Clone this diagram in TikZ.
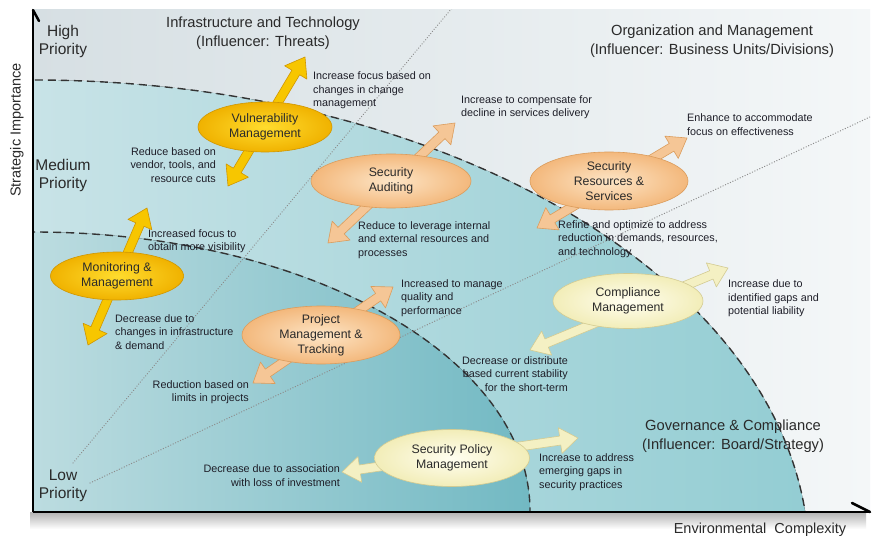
\documentclass[tikz,border=0pt]{standalone}
\usepackage{fontspec}
\setmainfont{Liberation Sans}
\usetikzlibrary{calc,shapes.geometric}

% band colours
\definecolor{panelL}{HTML}{D6DFE3}
\definecolor{panelR}{HTML}{F4F7F8}
\definecolor{midL}{HTML}{C8E3E7}
\definecolor{midR}{HTML}{93CDD3}
\definecolor{inL}{HTML}{BCDCE0}
\definecolor{inR}{HTML}{72B9C3}
% ellipse and arrow colours
\definecolor{goldIn}{HTML}{FFDC2E}
\definecolor{goldOut}{HTML}{F0B200}
\definecolor{goldEdge}{HTML}{D09600}
\definecolor{goldFill}{HTML}{F7C600}
\definecolor{peachIn}{HTML}{FDE5C6}
\definecolor{peachOut}{HTML}{F3B87C}
\definecolor{peachEdge}{HTML}{DB9C5C}
\definecolor{creamIn}{HTML}{FFFEF0}
\definecolor{creamOut}{HTML}{F2EDB8}
\definecolor{creamEdge}{HTML}{D3CB92}
\definecolor{ink}{HTML}{1E1E28}
\definecolor{titleink}{HTML}{2A2A2A}

% double-headed block arrow between two named points
\newcommand\dblarrow[3]{%
  \coordinate (qa) at ($(#2)!18pt!(#3)$);
  \coordinate (qb) at ($(#3)!18pt!(#2)$);
  \filldraw[#1] (#2) -- ($(qa)!13pt!90:(#3)$) -- ($(qa)!4.5pt!90:(#3)$)
    -- ($(qb)!4.5pt!-90:(#2)$) -- ($(qb)!13pt!-90:(#2)$) -- (#3)
    -- ($(qb)!13pt!90:(#2)$) -- ($(qb)!4.5pt!90:(#2)$)
    -- ($(qa)!4.5pt!-90:(#3)$) -- ($(qa)!13pt!-90:(#3)$) -- cycle;}

\tikzset{
  pill/.style={ellipse, inner sep=0pt, line width=0.6pt},
  goldpill/.style={pill, inner color=goldIn, outer color=goldOut, draw=goldEdge},
  peachpill/.style={pill, inner color=peachIn, outer color=peachOut, draw=peachEdge},
  creampill/.style={pill, inner color=creamIn, outer color=creamOut, draw=creamEdge},
  pilltext/.style={align=center, text=titleink, font=\fontsize{12.3}{15}\selectfont},
  goldarrow/.style={fill=goldFill, draw=goldEdge, line width=0.6pt, line join=round},
  peacharrow/.style={fill=peachOut!80!white, draw=peachEdge, line width=0.6pt, line join=round},
  creamarrow/.style={fill=creamOut!85!white, draw=creamEdge, line width=0.6pt, line join=round},
  note/.style={text=ink, inner sep=0pt, font=\fontsize{10.8}{13.3}\selectfont},
  noteL/.style={note, anchor=west, align=left},
  noteR/.style={note, anchor=east, align=right},
  regiontitle/.style={text=titleink, align=center, inner sep=0pt, font=\fontsize{14.7}{18.5}\selectfont},
  prio/.style={text=titleink, align=center, inner sep=0pt, font=\fontsize{15.5}{18}\selectfont},
  axislabel/.style={text=titleink, inner sep=0pt, font=\fontsize{14.5}{17}\selectfont},
  boundary/.style={draw=black!80, line width=1.4pt, dash pattern=on 8pt off 5pt},
  sector/.style={draw=black!45, line width=1.3pt, dash pattern=on 0.1pt off 2.6pt, line cap=round},
  axisline/.style={line width=2.5pt, black},
}

\begin{document}
\begin{tikzpicture}[x=1pt, y=-1pt]
\useasboundingbox (0,0) rectangle (872,537);
\fill[white] (0,0) rectangle (872,537);

% soft shadow under the chart
\fill[top color=black!30, bottom color=white] (30,512) rectangle (866,529);

% chart panel with the two priority bands
\begin{scope}
  \clip (33,10) rectangle (870,511);
  \fill[left color=panelL, right color=panelR] (33,10) rectangle (870,511);
  \begin{scope}
    \clip (33,560) ellipse [x radius=776, y radius=480];
    \fill[left color=midL, right color=midR] (33,10) rectangle (809,511);
  \end{scope}
  \begin{scope}
    \clip (33,511) ellipse [x radius=497, y radius=279];
    \fill[left color=inL, right color=inR] (33,232) rectangle (530,511);
  \end{scope}
  \draw[boundary] (33,560) ellipse [x radius=776, y radius=480];
  \draw[boundary] (33,511) ellipse [x radius=497, y radius=279];
  % sector dividers
  \coordinate (s1a) at (73,463);
  \coordinate (s1b) at (452,8);
  \coordinate (s2a) at (90,483);
  \coordinate (s2b) at (872,116);
  \draw[sector] (s1a) -- (s1b);
  \draw[sector] (s2a) -- (s2b);
\end{scope}

% axes
\coordinate (origin) at (33,512);
\coordinate (ytip) at (33,10);
\coordinate (xtip) at (870,512);
\coordinate (ybarb) at (39,21);
\coordinate (xbarb) at (852,503);
\draw[axisline] (origin) -- (ytip);
\draw[axisline] (origin) -- (xtip);
\draw[axisline, line cap=round] (ytip) -- (ybarb);
\draw[axisline, line cap=round] (xtip) -- (xbarb);

\node[axislabel, rotate=90] (ylab) at (17,130) {Strategic Importance};
\node[axislabel] (xlab) at (760,530) {Environmental\ \ Complexity};

% priority levels
\node[prio] (hp) at (63,41) {High\\Priority};
\node[prio] (mp) at (63,175) {Medium\\Priority};
\node[prio] (lp) at (63,486) {Low\\Priority};

% region titles
\node[regiontitle] (t1) at (263,33) {Infrastructure and Technology\\(Influencer: Threats)};
\node[regiontitle] (t2) at (712,41) {Organization and Management\\(Influencer: Business Units/Divisions)};
\node[regiontitle] (t3) at (733,436) {Governance \& Compliance\\(Influencer: Board/Strategy)};

% arrow end points
\coordinate (vm-a) at (305,57);   \coordinate (vm-b) at (228,186);
\coordinate (sa-a) at (455,123);  \coordinate (sa-b) at (328,243);
\coordinate (sr-a) at (687,138);  \coordinate (sr-b) at (537,228);
\coordinate (mm-a) at (147,208);  \coordinate (mm-b) at (88,345);
\coordinate (pm-a) at (393,287);  \coordinate (pm-b) at (253,383);
\coordinate (cm-a) at (728,268);  \coordinate (cm-b) at (530,350);
\coordinate (sp-a) at (578,438);  \coordinate (sp-b) at (342,472);

\dblarrow{goldarrow}{vm-a}{vm-b}
\dblarrow{peacharrow}{sa-a}{sa-b}
\dblarrow{peacharrow}{sr-a}{sr-b}
\dblarrow{goldarrow}{mm-a}{mm-b}
\dblarrow{peacharrow}{pm-a}{pm-b}
\dblarrow{creamarrow}{cm-a}{cm-b}
\dblarrow{creamarrow}{sp-a}{sp-b}

% practice areas
\node[goldpill, minimum width=134pt, minimum height=50pt,
  label={[pilltext]center:Vulnerability\\Management}] (vm) at (265,127) {};
\node[peachpill, minimum width=160pt, minimum height=54pt,
  label={[pilltext]center:Security\\Auditing}] (sa) at (391,181) {};
\node[peachpill, minimum width=158pt, minimum height=58pt,
  label={[pilltext]center:Security\\Resources \&\\Services}] (sr) at (609,181) {};
\node[goldpill, minimum width=133pt, minimum height=48pt,
  label={[pilltext]center:Monitoring \&\\Management}] (mm) at (117,276) {};
\node[peachpill, minimum width=158pt, minimum height=58pt,
  label={[pilltext]center:Project\\Management \&\\Tracking}] (pm) at (321,335) {};
\node[creampill, minimum width=150pt, minimum height=55pt,
  label={[pilltext]center:Compliance\\Management}] (cm) at (628,301) {};
\node[creampill, minimum width=155pt, minimum height=57pt,
  label={[pilltext]center:Security Policy\\Management}] (sp) at (452,458) {};

% notes on each direction of change
\node[noteL] (n1) at (313,90.5) {Increase focus based on\\changes in change\\management};
\node[noteR] (n2) at (216,165) {Reduce based on\\vendor, tools, and\\resource cuts};
\node[noteL] (n3) at (461,107) {Increase to compensate for\\decline in services delivery};
\node[noteL] (n4) at (687,124.5) {Enhance to accommodate\\focus on effectiveness};
\node[noteL] (n5) at (358,240) {Reduce to leverage internal\\and external resources and\\processes};
\node[noteL] (n6) at (558,239) {Refine and optimize to address\\reduction in demands, resources,\\and technology};
\node[noteL] (n7) at (148,241.5) {Increased focus to\\obtain more visibility};
\node[noteL] (n8) at (115,332) {Decrease due to\\changes in infrastructure\\\& demand};
\node[noteL] (n9) at (401,298) {Increased to manage\\quality and\\performance};
\node[noteL] (n10) at (728,298.5) {Increase due to\\identified gaps and\\potential liability};
\node[noteR] (n11) at (249,392.5) {Reduction based on\\limits in projects};
\node[noteR] (n12) at (568,374) {Decrease or distribute\\based current stability\\for the short-term};
\node[noteR] (n13) at (340,475.5) {Decrease due to association\\with loss of investment};
\node[noteL] (n14) at (539,472) {Increase to address\\emerging gaps in\\security practices};
\end{tikzpicture}
\end{document}
